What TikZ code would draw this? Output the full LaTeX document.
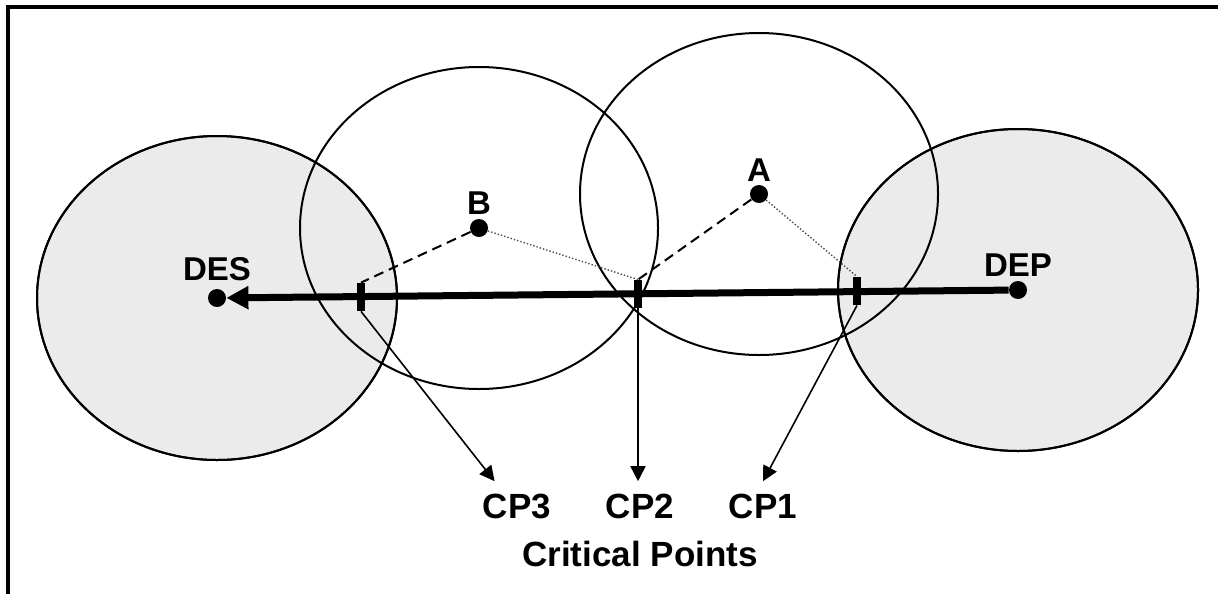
\documentclass[tikz,border=0pt]{standalone}
\usepackage{fontspec}
\setmainfont{Liberation Sans}
\usetikzlibrary{arrows.meta, positioning, calc}

\begin{document}
\begin{tikzpicture}[
    x=0.5pt, y=-0.5pt,
    zone/.style={draw, line width=1pt, fill=black!8},
    rangeline/.style={draw, line width=1pt},
    dot/.style={circle, fill=black, inner sep=0pt, minimum size=9pt},
    cpmark/.style={rectangle, fill=black, inner sep=0pt, minimum width=4pt, minimum height=14pt},
    lbl/.style={inner sep=0pt, font=\fontsize{16.5}{18}\selectfont\bfseries},
    cplbl/.style={inner sep=0pt, font=\fontsize{17.5}{20}\selectfont\bfseries},
    route/.style={line width=3.5pt, -{Triangle[length=11pt, width=11pt]}},
    ptr/.style={line width=0.8pt, -{Triangle[length=7.5pt, width=7.5pt]}},
    leg/.style={line width=1pt, dash pattern=on 5pt off 3pt},
    dleg/.style={line width=0.7pt, black!70, densely dotted}
]
\useasboundingbox (0,0) rectangle (1218,594);
\draw[line width=2pt] (8,594) -- (8,7) -- (1220,7);

% terminal zones and ranges of A and B
\draw[zone] (217,298) ellipse [x radius=180, y radius=162];
\draw[zone] (1018,290) ellipse [x radius=180, y radius=161];
\draw[rangeline] (479,228) ellipse [x radius=179, y radius=161];
\draw[rangeline] (759,194) ellipse [x radius=179, y radius=161];
\draw[rangeline] (217,298) ellipse [x radius=180, y radius=162];
\draw[rangeline] (1018,290) ellipse [x radius=180, y radius=161];

\node[dot] (des) at (217,298) {};
\node[dot] (dep) at (1018,290) {};
\node[dot] (b) at (479,228) {};
\node[dot] (a) at (759,194) {};
\node[lbl, above=3.5pt of des] (deslbl) {DES};
\node[lbl, above=2pt of dep] (deplbl) {DEP};
\node[lbl, above=2pt of b] (blbl) {B};
\node[lbl, above=1.5pt of a] (albl) {A};

\node[cpmark] (m3) at (361,297) {};
\node[cpmark] (m2) at (638,294) {};
\node[cpmark] (m1) at (857,291) {};

\draw[route] (dep) -- (des);

\draw[leg] (b) -- (m3.north);
\draw[dleg] (b) -- (m2.north);
\draw[leg] (a) -- (m2.north);
\draw[dleg] (a) -- (m1.north);

\node[cplbl] (cp3) at (517,506) {CP3};
\node[cplbl] (cp2) at (640,506) {CP2};
\node[cplbl] (cp1) at (763,506) {CP1};
\node[cplbl, below=11pt of cp2] (crit) {Critical Points};

\draw[ptr] (m3.south) -- ($(cp3.north west)+(12,-12)$);
\draw[ptr] (m2.south) -- ($(cp2.north)+(-2,-12)$);
\draw[ptr] (m1.south) -- ($(cp1.north)+(0,-12)$);
\end{tikzpicture}
\end{document}
